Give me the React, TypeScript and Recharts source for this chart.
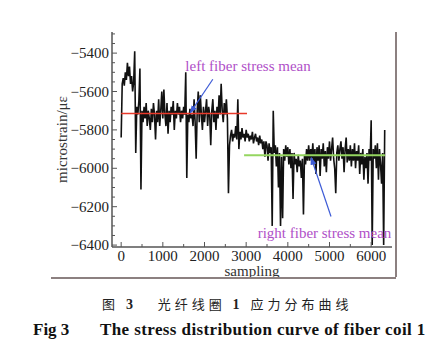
import React from "react";
import {
  LineChart,
  Line,
  XAxis,
  YAxis,
  ReferenceLine,
  ReferenceDot,
  Label,
} from "recharts";

// one value every 25 samples
const samplingStep = 25;

// samples 0 .. 2975
const firstHalf = [
  -5840, -5560, -5530, -5570, -5500, -5540, -5450, -5520, -5470, -5560,
  -5520, -5600, -5550, -5390, -5920, -5680, -5720, -5650, -5480, -6110,
  -5700, -5760, -5680, -5740, -5660, -5780, -5700, -5740, -5800, -5690,
  -5760, -5660, -5720, -5850, -5700, -5760, -5640, -5780, -5700, -5600,
  -5740, -5590, -5720, -5780, -5660, -5820, -5700, -5760, -5680, -5720,
  -5650, -5800, -5700, -5740, -5660, -5720, -5680, -5760, -5700, -5740,
  -5680, -5720, -5500, -6050, -5720, -5760, -5690, -5740, -5720, -5780,
  -5640, -5760, -5950, -5700, -5600, -5760, -5620, -5720, -5800, -5680,
  -5760, -5700, -5640, -5780, -5680, -5720, -5880, -5700, -5640, -5760,
  -5700, -5800, -5680, -5740, -5620, -5720, -5560, -5700, -5760, -5660,
  -5720, -5640, -5740, -6130, -5880, -5830, -5800, -5860, -5820, -5840,
  -5780, -5850, -5640, -5900, -5810, -5850, -5790, -5840, -5820, -5860,
];

// samples 3000 .. 6325
const secondHalf = [
  -5800, -5840, -5820, -5860, -5830, -5850, -5810, -5870, -5840, -5820,
  -5860, -5840, -5880, -5830, -5870, -5850, -5900, -5860, -5940, -5860,
  -5880, -5960, -5870, -5920, -5890, -6300, -5700, -5920, -5880, -5990,
  -5890, -6100, -5920, -6300, -5940, -6260, -5900, -5960, -5880, -5940,
  -5890, -5980, -5900, -6000, -5920, -6160, -5920, -5980, -5950, -6020,
  -5930, -5990, -5960, -6050, -5950, -6240, -5930, -5980, -5900, -5960,
  -5880, -5960, -5900, -5950, -5870, -5980, -5900, -6030, -5890, -5960,
  -5880, -6040, -5900, -5950, -5870, -5990, -5910, -6020, -5890, -5950,
  -5860, -5960, -5900, -5840, -5950, -6000, -6130, -5920, -5880, -5960,
  -5900, -5860, -5950, -5890, -6020, -5900, -5840, -5970, -5900, -5960,
  -5880, -5990, -5900, -5960, -5870, -6000, -5910, -5960, -5880, -6030,
  -5920, -5980, -5900, -6060, -5940, -6000, -5920, -6080, -5900, -5960,
  -5750, -6400, -5900, -5950, -5880, -6000, -5870, -6060, -5900, -5980,
  -6080, -5920, -6400, -5800,
];

const leftMean = -5715;
const rightMean = -5932;
const leftSpan = [0, 3020];
const rightSpan = [2950, 6330];

const xTicks = [0, 500, 1000, 1500, 2000, 2500, 3000, 3500, 4000, 4500, 5000, 5500, 6000];
const yTicks = [
  -6400, -6350, -6300, -6250, -6200, -6150, -6100, -6050, -6000, -5950, -5900,
  -5850, -5800, -5750, -5700, -5650, -5600, -5550, -5500, -5450, -5400, -5350, -5300,
];

const data = [...firstHalf, ...secondHalf].map((v, i) => ({
  sampling: i * samplingStep,
  strain: v,
}));

const serif = "'Liberation Serif', 'Times New Roman', serif";
const axisColor = "#555";
const noteColor = "#b050c8";
const arrowColor = "#3d5bd6";

const XTick = (p: any) => {
  const { x, y, payload } = p;
  const major = payload.value % 1000 === 0;
  return (
    <g>
      <line x1={x} x2={x} y1={y} y2={y - (major ? 5 : 3)} stroke={axisColor} />
      {major && (
        <text x={x} y={y + 14} textAnchor="middle" fontFamily={serif} fontSize={15} fill="#222">
          {payload.value}
        </text>
      )}
    </g>
  );
};

const YTick = (p: any) => {
  const { x, y, payload } = p;
  const major = (payload.value + 5400) % 200 === 0;
  return (
    <g>
      <line x1={x} x2={x + (major ? 5 : 3)} y1={y} y2={y} stroke={axisColor} />
      {major && (
        <text x={x - 3} y={y + 5} textAnchor="end" fontFamily={serif} fontSize={15} fill="#222">
          {"\u2212" + Math.abs(payload.value)}
        </text>
      )}
    </g>
  );
};

const Arrow = (p: any) => (
  <line
    x1={p.x1}
    y1={p.y1}
    x2={p.x2}
    y2={p.y2}
    stroke={arrowColor}
    strokeWidth={1.2}
    markerEnd="url(#arrowHead)"
  />
);

const note = (text: string) => (p: any) => (
  <text x={p.cx} y={p.cy} textAnchor="middle" fontFamily={serif} fontSize={15} fill={noteColor}>
    {text}
  </text>
);

export default function App() {
  return (
    <div style={{ position: "absolute", left: 0, top: 0, width: 443, height: 362, background: "#fff" }}>
      <LineChart
        width={443}
        height={290}
        data={data}
        margin={{ top: 32, right: 51, bottom: 13, left: 40 }}
      >
        <defs>
          <marker
            id="arrowHead"
            markerWidth={8}
            markerHeight={8}
            refX={7}
            refY={4}
            orient="auto"
            markerUnits="userSpaceOnUse"
          >
            <path d="M0,1 L8,4 L0,7 Z" fill={arrowColor} />
          </marker>
        </defs>
        <XAxis
          dataKey="sampling"
          type="number"
          domain={[-220, 6500]}
          ticks={xTicks}
          interval={0}
          height={30}
          tickSize={0}
          tickMargin={0}
          tickLine={false}
          tick={<XTick />}
          axisLine={{ stroke: axisColor, strokeWidth: 1.5 }}
        >
          <Label
            content={(p: any) => (
              <text
                x={p.viewBox.x + p.viewBox.width / 2}
                y={p.viewBox.y + 29}
                textAnchor="middle"
                fontFamily={serif}
                fontSize={15}
                fill="#333"
              >
                sampling
              </text>
            )}
          />
        </XAxis>
        <YAxis
          type="number"
          domain={[-6410, -5290]}
          ticks={yTicks}
          interval={0}
          width={72}
          tickSize={0}
          tickMargin={0}
          tickLine={false}
          tick={<YTick />}
          axisLine={{ stroke: axisColor, strokeWidth: 1.5 }}
        >
          <Label
            content={(p: any) => {
              const cx = p.viewBox.x + 22;
              const cy = p.viewBox.y + p.viewBox.height / 2;
              return (
                <text
                  x={cx}
                  y={cy}
                  transform={`rotate(-90 ${cx} ${cy})`}
                  textAnchor="middle"
                  dominantBaseline="central"
                  fontFamily={serif}
                  fontSize={15}
                  fill="#333"
                >
                  microstrain/με
                </text>
              );
            }}
          />
        </YAxis>
        <Line
          type="linear"
          dataKey="strain"
          stroke="#111"
          strokeWidth={1.6}
          strokeLinejoin="miter"
          dot={false}
          isAnimationActive={false}
        />
        <ReferenceLine
          segment={[
            { x: leftSpan[0], y: leftMean },
            { x: leftSpan[1], y: leftMean },
          ]}
          stroke="#e8392a"
          strokeWidth={1.5}
        />
        <ReferenceLine
          segment={[
            { x: rightSpan[0], y: rightMean },
            { x: rightSpan[1], y: rightMean },
          ]}
          stroke="#95d660"
          strokeWidth={1.8}
        />
        <ReferenceLine
          segment={[
            { x: 2200, y: -5536 },
            { x: 1660, y: -5710 },
          ]}
          shape={Arrow}
        />
        <ReferenceLine
          segment={[
            { x: 5036, y: -6251 },
            { x: 4560, y: -5945 },
          ]}
          shape={Arrow}
        />
        <ReferenceDot x={3045} y={-5494} r={0} shape={note("left fiber stress mean")} />
        <ReferenceDot x={4880} y={-6361} r={0} shape={note("right fiber stress mean")} />
      </LineChart>
      <div style={{ position: "absolute", left: 395, top: 32, width: 1.5, height: 245, background: "#8c8080" }} />
      <div style={{ position: "absolute", left: 51, top: 277, width: 345, height: 1.5, background: "#8c8080" }} />
      <div
        style={{
          position: "absolute",
          left: 102,
          top: 296,
          fontFamily: "'Noto Sans CJK SC', sans-serif",
          fontSize: 13,
          letterSpacing: 4,
          color: "#222",
          whiteSpace: "pre",
          lineHeight: "16px",
        }}
      >
        图 <b style={{ fontFamily: serif, fontSize: 14 }}>3</b>{"   "}光纤线圈 <b style={{ fontFamily: serif, fontSize: 14 }}>1</b> 应力分布曲线
      </div>
      <div
        style={{
          position: "absolute",
          left: 33,
          top: 321,
          fontFamily: serif,
          fontWeight: "bold",
          fontSize: 17,
          color: "#111",
          whiteSpace: "pre",
          lineHeight: "18px",
        }}
      >
        {"Fig 3"}
        <span style={{ position: "absolute", left: 67, letterSpacing: 0.4 }}>
          The stress distribution curve of fiber coil 1
        </span>
      </div>
    </div>
  );
}
